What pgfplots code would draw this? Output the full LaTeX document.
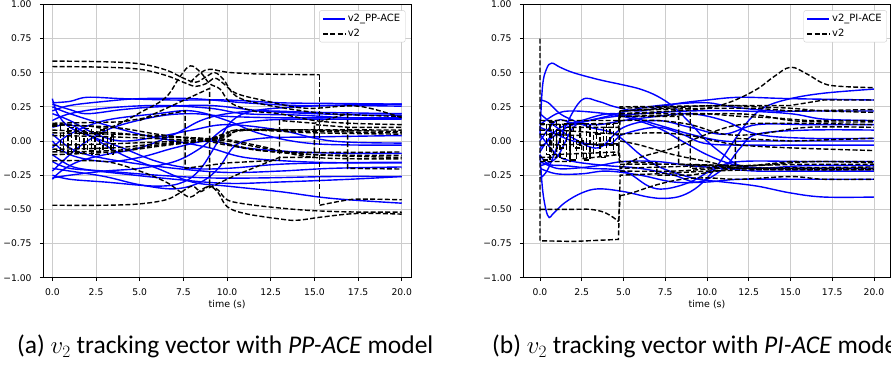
\documentclass[border=0pt]{standalone}
\usepackage{pgfplots}
\pgfplotsset{compat=1.18}
\usepackage{fontspec}
\setmainfont{DejaVu Sans}
\newfontfamily\capfont{Carlito}
\definecolor{gridgray}{gray}{0.80}
\pgfplotsset{
  mpl/.style={
    scale only axis, height=273.3pt,
    ymin=-1, ymax=1,
    ytick={-1,-0.75,-0.5,-0.25,0,0.25,0.5,0.75,1},
    yticklabels={−1.00,−0.75,−0.50,−0.25,0.00,0.25,0.50,0.75,1.00},
    xtick={0,2.5,5,7.5,10,12.5,15,17.5,20},
    xticklabels={0.0,2.5,5.0,7.5,10.0,12.5,15.0,17.5,20.0},
    tick align=outside, xtick pos=bottom, ytick pos=left,
    major tick length=3.5pt,
    every tick/.style={black, line width=0.8pt},
    axis line style={line width=0.8pt},
    grid=major, major grid style={gridgray, line width=0.8pt},
    tick label style={font=\fontsize{9.2}{10}\selectfont},
    xticklabel style={anchor=north, inner sep=0pt, yshift=-7pt},
    yticklabel style={anchor=east, inner sep=0pt, xshift=-8pt},
    every axis x label/.style={at={(axis description cs:0.5,0)}, anchor=center, yshift=-26.5pt, font=\fontsize{9.5}{10}\selectfont},
    xlabel={time (s)},
    legend cell align=left,
    legend image code/.code={\draw[#1] (0pt,0pt) -- (22pt,0pt);},
    legend style={draw=black!20, rounded corners=2pt, font=\fontsize{10}{11}\selectfont,
      inner xsep=3pt, inner ysep=1.5pt, row sep=1.5pt, anchor=north east,
      nodes={inner sep=2pt, text height=7.5pt, text depth=2pt}},
  },
  bl/.style={blue, line width=1.4pt, smooth, tension=0.6, forget plot},
  ds/.style={black, line width=1.4pt, dash pattern=on 5pt off 2.3pt, smooth, tension=0.6, forget plot},
  dst/.style={black, line width=1.4pt, dash pattern=on 5pt off 2.3pt, forget plot},
  dsc/.style={black, line width=1.4pt, dash pattern=on 5pt off 2.3pt, const plot, forget plot},
}
\begin{document}
\begin{tikzpicture}
\path[use as bounding box] (0,0) rectangle (891pt,366pt);
% ---------------- left: PP-ACE ----------------
\begin{axis}[mpl, width=367.7pt, at={(43.3pt,88.33pt)}, anchor=south west,
  xmin=-0.52, xmax=20.53,
  legend style={at={(0.985,0.978)}}]
\addlegendimage{blue, line width=1.4pt}
\addlegendentry{v2\_PP-ACE}
\addlegendimage{black, line width=1.4pt, dash pattern=on 5pt off 2.3pt}
\addlegendentry{v2}
% blue
\addplot[bl] coordinates {(0,0.31)(0.3,0.2)(1,0.1)(2.5,0.02)(4,-0.05)(6,-0.15)(8,-0.2)(10,-0.2)(13,-0.17)(16,-0.16)(20,-0.155)};
\addplot[bl] coordinates {(0,0.28)(1,0.29)(2,0.32)(4,0.31)(7,0.3)(10,0.3)(13,0.28)(16,0.275)(20,0.27)};
\addplot[bl] coordinates {(0,0.22)(1,0.26)(3,0.29)(5,0.31)(8,0.31)(11,0.28)(14,0.26)(17,0.26)(20,0.255)};
\addplot[bl] coordinates {(0,0.27)(1,0.23)(2,0.2)(4,0.23)(6,0.25)(9,0.26)(12,0.22)(15,0.2)(18,0.19)(20,0.19)};
\addplot[bl] coordinates {(0,0.15)(1,0.2)(3,0.24)(6,0.26)(9,0.24)(11,0.2)(14,0.19)(17,0.17)(20,0.165)};
\addplot[bl] coordinates {(0,0.1)(1,0.12)(2,0.05)(4,-0.1)(6,-0.2)(8,-0.3)(10,-0.33)(13,-0.37)(16,-0.42)(20,-0.455)};
\addplot[bl] coordinates {(0,-0.2)(1,-0.22)(3,-0.26)(5,-0.32)(7,-0.35)(8.5,-0.3)(9.5,-0.2)(10.5,-0.03)(12,0.02)(15,0.03)(20,0.04)};
\addplot[bl] coordinates {(0,-0.28)(0.5,-0.22)(1.5,-0.15)(3,-0.1)(5,-0.05)(7,0.05)(8.5,0.15)(10,0.2)(12,0.22)(15,0.21)(20,0.2)};
\addplot[bl] coordinates {(0,-0.25)(1,-0.28)(3,-0.3)(6,-0.33)(7.5,-0.3)(8.5,-0.2)(9.5,0)(10.3,0.15)(11.5,0.22)(14,0.25)(17,0.265)(20,0.27)};
\addplot[bl] coordinates {(0,-0.15)(1,-0.2)(3,-0.22)(6,-0.25)(9,-0.27)(12,-0.27)(16,-0.26)(20,-0.26)};
\addplot[bl] coordinates {(0,0.05)(1,-0.05)(2,-0.1)(4,-0.15)(7,-0.2)(10,-0.23)(13,-0.22)(16,-0.2)(20,-0.19)};
\addplot[bl] coordinates {(0,-0.1)(1,-0.18)(2,-0.21)(4,-0.24)(7,-0.28)(10,-0.31)(13,-0.3)(17,-0.28)(20,-0.26)};
\addplot[bl] coordinates {(0,0.2)(1,0.15)(2.5,0.05)(4,0)(6,0.03)(8,0.08)(10,0.12)(13,0.08)(16,0)(20,-0.015)};
\addplot[bl] coordinates {(0,-0.05)(1,0.05)(3,0.15)(6,0.2)(8,0.22)(10,0.15)(12,0.05)(15,-0.02)(20,-0.03)};
\addplot[bl] coordinates {(0,0.0)(1,-0.1)(3,-0.15)(5,-0.12)(7,-0.05)(9,0)(11,-0.05)(14,-0.08)(17,-0.09)(20,-0.09)};
\addplot[bl] coordinates {(0,-0.22)(1,-0.1)(2,0)(3.5,0.1)(6,0.18)(8,0.2)(10,0.18)(13,0.17)(16,0.17)(20,0.17)};
\addplot[bl] coordinates {(0,0.25)(1,0.2)(3,0.12)(5,0.05)(7,0)(9,-0.05)(11,-0.12)(14,-0.15)(17,-0.16)(20,-0.16)};
\addplot[bl] coordinates {(0,-0.27)(1,-0.25)(3,-0.22)(5,-0.2)(7,-0.15)(8.5,-0.05)(10,0.1)(12,0.15)(15,0.16)(20,0.16)};
% dashed
\addplot[ds] coordinates {(0,0.585)(3,0.58)(5,0.565)(6.5,0.52)(7.5,0.46)(8.2,0.43)(8.8,0.47)(9.3,0.5)(9.8,0.45)(10.5,0.33)(12,0.27)(15,0.21)(17.5,0.19)(20,0.18)};
\addplot[ds] coordinates {(0,0.545)(3,0.54)(5,0.525)(6.5,0.48)(7.5,0.43)(8.2,0.4)(8.8,0.42)(9.3,0.46)(9.8,0.42)(10.5,0.35)(12,0.3)(14.5,0.24)(17.5,0.255)(20,0.17)};
\addplot[ds] coordinates {(0,0.12)(2,0.11)(3.3,0.1)(5.2,0.22)(6.5,0.32)(7.3,0.47)(7.9,0.55)(8.5,0.5)(9,0.42)(9.6,0.38)(10.2,0.28)(11.5,0.22)(13,0.2)(15,0.15)(17,0.13)(20,0.12)};
\addplot[ds] coordinates {(7.9,0.43)(8.5,0.5)(9,0.525)(9.7,0.51)(10.3,0.5)(12,0.49)(15.3,0.485)};
\addplot[dst] coordinates {(15.3,0.485)(15.3,-0.47)};
\addplot[ds] coordinates {(15.3,-0.47)(16.5,-0.44)(17.5,-0.425)(20,-0.43)};
\addplot[ds] coordinates {(0,-0.47)(3,-0.47)(5,-0.46)(6.5,-0.43)(7.3,-0.38)(8,-0.33)(8.5,-0.37)(9,-0.33)(9.5,-0.38)(10,-0.48)(11,-0.53)(13,-0.57)(14,-0.58)(15.5,-0.555)(17.5,-0.53)(20,-0.535)};
\addplot[ds] coordinates {(0,-0.145)(3,-0.15)(5,-0.22)(6.5,-0.3)(7.3,-0.37)(7.9,-0.41)(8.5,-0.36)(9,-0.33)(9.5,-0.36)(10,-0.43)(11,-0.46)(13,-0.49)(15,-0.51)(17.5,-0.52)(20,-0.52)};
\addplot[ds] coordinates {(0,0.12)(3.5,0.1)(6,0.05)(8.5,0.01)(10,0)(12,-0.05)(15,-0.1)(20,-0.12)};
\addplot[ds] coordinates {(0,-0.1)(3.5,-0.08)(6,-0.04)(8.5,0)(10,0.03)(10.5,0.07)(12,0.08)(15,0.07)(20,0.06)};
\addplot[ds] coordinates {(0,0.08)(3.5,0.06)(6,0.03)(8.5,0.02)(10,-0.02)(12,-0.07)(15,-0.1)(20,-0.105)};
\addplot[ds] coordinates {(0,-0.06)(3.5,-0.05)(6,-0.02)(8.5,0)(10,0.04)(11,0.08)(15,0.06)(20,0.05)};
\addplot[ds] coordinates {(0,0.04)(3.5,0.03)(8.5,0)(10,-0.03)(13,-0.08)(20,-0.08)};
\addplot[ds] coordinates {(0,-0.03)(3.5,-0.02)(8.5,0.01)(10,0.05)(11,0.08)(20,0.08)};
\addplot[ds] coordinates {(0,0.06)(3.5,0.05)(6,0.04)(8.5,0.02)(10,0.01)(12,-0.04)(15,-0.12)(20,-0.13)};
\addplot[ds] coordinates {(0,-0.08)(3.5,-0.07)(6,-0.03)(8.5,0)(10,0.06)(11,0.085)(15,0.08)(20,0.07)};
\addplot[dsc] coordinates {(0,0.11)(0.45,-0.1)(0.9,0.1)(1.35,-0.09)(1.8,0.09)(2.25,-0.1)(2.7,0.08)(3.15,-0.1)(3.5,0.05)(3.6,0.05)};
\addplot[dsc] coordinates {(0.2,-0.07)(0.65,0.07)(1.1,-0.08)(1.55,0.06)(2,-0.07)(2.45,0.06)(2.9,-0.07)(3.35,0.04)(3.5,0.04)};
\addplot[dst] coordinates {(0,0.13)(4,0.14)(7.6,0.22)(7.6,-0.2)(10,-0.16)(13,-0.14)(13,0.15)(15,0.13)(16.9,0.2)(16.9,-0.2)(20,-0.205)};
\addplot[dst] coordinates {(5,0.15)(9,0.385)(9,-0.34)(10.5,-0.25)(13,-0.12)(15,-0.12)(15,0.12)(17,0.1)(20,0.1)};
\end{axis}
% ---------------- right: PI-ACE ----------------
\begin{axis}[mpl, width=367.3pt, at={(523.3pt,88.33pt)}, anchor=south west,
  xmin=-1, xmax=21,
  legend style={at={(0.99,0.978)}}]
\addlegendimage{blue, line width=1.4pt}
\addlegendentry{v2\_PI-ACE}
\addlegendimage{black, line width=1.4pt, dash pattern=on 5pt off 2.3pt}
\addlegendentry{v2}
% blue
\addplot[bl] coordinates {(0,0.05)(0.15,0.4)(0.4,0.53)(0.7,0.57)(1.2,0.54)(2,0.5)(3.5,0.45)(5,0.41)(6,0.38)(7,0.33)(8,0.25)(9,0.13)(10,0)(11,-0.1)(12,-0.18)(14,-0.2)(16,-0.2)(20,-0.2)};
\addplot[bl] coordinates {(0,-0.1)(0.15,-0.35)(0.35,-0.5)(0.55,-0.56)(0.8,-0.53)(1.5,-0.45)(2.5,-0.38)(3.5,-0.35)(5,-0.37)(6.5,-0.41)(7.5,-0.42)(8.5,-0.4)(9.5,-0.33)(10.5,-0.2)(11.5,-0.02)(12.5,0.15)(13.5,0.25)(15,0.31)(17,0.35)(20,0.38)};
\addplot[bl] coordinates {(0,0.3)(0.5,0.28)(1.2,0.2)(2,0.15)(3,0.1)(4.5,0.05)(6,-0.1)(7,-0.18)(8,-0.23)(9.5,-0.28)(11,-0.3)(13,-0.33)(15,-0.38)(17,-0.41)(20,-0.41)};
\addplot[bl] coordinates {(0,-0.27)(0.5,-0.2)(1.5,0.1)(2.5,0.3)(3.5,0.29)(4.5,0.25)(6,0.22)(8,0.27)(10,0.3)(12,0.32)(15,0.31)(20,0.3)};
\addplot[bl] coordinates {(0,-0.18)(1,-0.12)(2,0.1)(3,0.15)(4.5,0.18)(6,0.2)(9,0.22)(12,0.22)(15,0.2)(17,0.16)(20,0.15)};
\addplot[bl] coordinates {(0,0.12)(1,0.2)(2,0.22)(4,0.2)(5,0.18)(7,0.1)(8.5,0)(10,-0.1)(11.5,-0.17)(13,-0.2)(16,-0.18)(20,-0.18)};
\addplot[bl] coordinates {(0,0.0)(1,0.15)(2,0.13)(3.5,0.12)(5,0.15)(7,0.18)(9,0.2)(11,0.15)(13,0.05)(16,0.02)(20,0.02)};
\addplot[bl] coordinates {(0,-0.15)(1,-0.2)(2,-0.2)(3.5,-0.18)(5,-0.15)(7,-0.15)(9,-0.18)(11,-0.2)(13,-0.22)(16,-0.22)(20,-0.22)};
\addplot[bl] coordinates {(0,-0.2)(1,-0.24)(2.5,-0.24)(4,-0.22)(6,-0.25)(8,-0.3)(10,-0.3)(12,-0.28)(16,-0.28)(20,-0.28)};
\addplot[bl] coordinates {(0,0.05)(1,-0.1)(2,-0.15)(4,-0.18)(6,-0.2)(8,-0.25)(9.5,-0.3)(11,-0.2)(12,-0.05)(13,0.05)(16,0.08)(20,0.08)};
\addplot[bl] coordinates {(0,-0.05)(1,0.05)(2,0.12)(4,0.18)(6,0.24)(8,0.27)(10,0.28)(11.5,0.25)(14,0.22)(17,0.22)(20,0.22)};
\addplot[bl] coordinates {(0,0.1)(1,0.05)(2,0)(4,-0.03)(5,0.05)(7,0.1)(8.5,0.05)(10,-0.02)(13,-0.03)(16,-0.03)(20,-0.03)};
\addplot[bl] coordinates {(0,-0.1)(0.5,-0.17)(1.5,-0.18)(3,-0.2)(5,-0.22)(6.5,-0.33)(7.5,-0.35)(9,-0.3)(10.5,-0.2)(12,-0.15)(16,-0.15)(20,-0.15)};
\addplot[bl] coordinates {(0,0.2)(1,0.1)(2,0.02)(3.5,-0.05)(5,0.1)(7,0.15)(9,0.1)(11,0.05)(13,0.12)(16,0.12)(20,0.12)};
\addplot[bl] coordinates {(0,-0.08)(1,0.08)(2.5,0.15)(4.5,0.2)(7,0.12)(9,0.05)(11,0)(13,0)(20,0)};
% dashed
\addplot[dst] coordinates {(0,0.75)(0,-0.73)(2,-0.735)(4.7,-0.72)(4.8,-0.25)(7,-0.24)(10,-0.22)(13,-0.21)(20,-0.21)};
\addplot[ds] coordinates {(0,-0.5)(2,-0.5)(3,-0.5)(3.8,-0.52)(4.4,-0.56)(4.7,-0.59)};
\addplot[dst] coordinates {(4.7,-0.59)(4.8,-0.4)};
\addplot[ds] coordinates {(4.8,-0.4)(5.5,-0.38)(7,-0.32)(8.5,-0.28)(10,-0.27)(12,-0.28)(15,-0.26)(17,-0.28)(20,-0.28)};
\addplot[ds] coordinates {(4.8,0.2)(8,0.22)(10,0.24)(11.5,0.29)(13,0.38)(14,0.47)(15,0.54)(16,0.49)(17,0.42)(18,0.4)(20,0.39)};
\addplot[dst] coordinates {(0,0.15)(4.7,0.15)(4.8,0.22)(7,0.23)(10,0.24)(13,0.24)(15,0.22)(20,0.23)};
\addplot[dst] coordinates {(0,0.12)(4.7,0.13)(4.8,0.2)(10,0.2)(12,0.18)(14,0.17)(16,0.15)(20,0.15)};
\addplot[dst] coordinates {(0,-0.15)(1.8,-0.15)(1.8,0.1)(4.7,0.1)(4.8,0.25)(12,0.26)(15,0.26)(17,0.3)(20,0.3)};
\addplot[dst] coordinates {(0,-0.03)(4.7,-0.02)(4.8,-0.15)(7,-0.16)(7,-0.25)(9,-0.25)(11.7,-0.2)(11.7,0.02)(15,0)(20,0.02)};
\addplot[dst] coordinates {(0,0.05)(2.5,0.04)(2.5,-0.13)(4.7,-0.1)(4.8,0.18)(8.3,0.18)(8.3,-0.17)(12,-0.18)(16,-0.17)(20,-0.17)};
\addplot[dst] coordinates {(0,-0.12)(1,-0.12)(1,0.08)(4.7,0.05)(4.8,0.22)(9,0.25)(9,-0.2)(12,-0.19)(15,-0.15)(20,-0.15)};
\addplot[dst] coordinates {(0,0.08)(0.7,0.08)(0.7,-0.1)(4.7,-0.08)(4.8,-0.2)(10,-0.18)(12,-0.2)(20,-0.19)};
\addplot[ds] coordinates {(4.8,0.05)(7,0.06)(9,0.04)(10.5,0)(12,-0.03)(15,-0.05)(20,-0.07)};
\addplot[ds] coordinates {(4.8,0)(6,-0.03)(8,-0.1)(10,-0.15)(12,-0.2)(15,-0.21)(20,-0.21)};
\addplot[ds] coordinates {(4.8,0.15)(7,0.15)(9,0.12)(11,0.05)(13,0.05)(16,0.1)(20,0.1)};
\addplot[ds] coordinates {(4.8,-0.2)(6,-0.12)(8,-0.05)(10,0.05)(12,0.12)(15,0.13)(20,0.12)};
\addplot[ds] coordinates {(4.8,0.24)(8,0.25)(11,0.26)(13,0.25)(15,0.24)(17,0.22)(20,0.21)};
\addplot[ds] coordinates {(4.8,0.18)(8,0.19)(11,0.2)(13,0.19)(15,0.15)(17,0.14)(20,0.14)};
\addplot[ds] coordinates {(4.8,-0.17)(8,-0.17)(11,-0.18)(13,-0.18)(15,-0.16)(17,-0.15)(20,-0.16)};
\addplot[ds] coordinates {(4.8,-0.22)(8,-0.22)(11,-0.2)(14,-0.2)(17,-0.2)(20,-0.2)};
\addplot[dsc] coordinates {(0,0.13)(0.4,-0.1)(0.8,0.12)(1.2,-0.13)(1.6,0.1)(2,-0.05)(2.4,0.13)(2.8,-0.12)(3.2,0.05)(3.6,-0.12)(4,0.12)(4.4,-0.1)(4.7,-0.1)};
\addplot[dsc] coordinates {(0.2,-0.14)(0.6,0.14)(1,-0.05)(1.4,0.13)(1.8,-0.14)(2.2,0.0)(2.6,-0.14)(3,0.12)(3.4,-0.03)(3.8,0.1)(4.2,-0.03)(4.7,-0.03)};
\end{axis}
% captions
\node[anchor=base west, inner sep=0pt, font=\capfont\fontsize{25.5}{29}\selectfont] at (17pt,12.5pt) {(a) $v_2$ tracking vector with \textit{PP-ACE} model};
\node[anchor=base west, inner sep=0pt, font=\capfont\fontsize{25.5}{29}\selectfont] at (492pt,12.5pt) {(b) $v_2$ tracking vector with \textit{PI-ACE} model};
\end{tikzpicture}
\end{document}
